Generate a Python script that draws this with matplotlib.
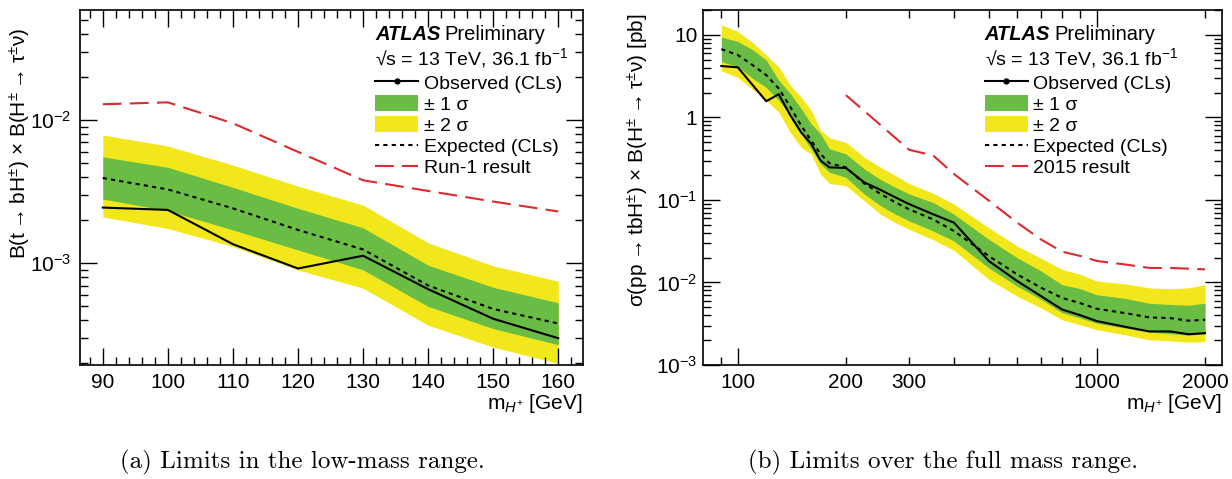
import math
import matplotlib
matplotlib.use("Agg")
import matplotlib.pyplot as plt
from matplotlib.lines import Line2D
from matplotlib.patches import Patch
from matplotlib.ticker import MultipleLocator, LogLocator, FixedLocator, FuncFormatter, NullFormatter

plt.rcParams["font.family"] = ["Liberation Sans", "DejaVu Sans"]
plt.rcParams["mathtext.fontset"] = "custom"
plt.rcParams["mathtext.rm"] = "Liberation Sans"
plt.rcParams["mathtext.it"] = "Liberation Sans:italic"
plt.rcParams["mathtext.bf"] = "Liberation Sans:bold"
plt.rcParams["mathtext.fallback"] = "stixsans"

# ---- (a) low-mass range: B(t->bH) x B(H->taunu)
mass_low = [90, 100, 110, 120, 130, 140, 150, 160]
obs_low = [0.00245, 0.00236, 0.00136, 0.00092, 0.00113, 0.00066, 0.00041, 0.00030]
exp_low = [0.00394, 0.00328, 0.00242, 0.00171, 0.00125, 0.00070, 0.00048, 0.00038]
p1s_low = [0.00554, 0.00468, 0.00339, 0.00242, 0.00177, 0.00097, 0.00068, 0.00053]
m1s_low = [0.00281, 0.00233, 0.00171, 0.00124, 0.00090, 0.00050, 0.00035, 0.00027]
p2s_low = [0.00786, 0.00659, 0.00485, 0.00346, 0.00255, 0.00139, 0.00096, 0.00075]
m2s_low = [0.00211, 0.00175, 0.00131, 0.00090, 0.00067, 0.00037, 0.00026, 0.00020]
run1 = [0.0129, 0.0133, 0.0095, 0.0060, 0.0038, 0.0032, 0.0027, 0.0023]

# ---- (b) full mass range: sigma x B [pb]
mass_full = [90, 100, 110, 120, 130, 140, 150, 160, 170, 180, 200, 225, 250, 275,
             300, 350, 400, 500, 600, 700, 800, 900, 1000, 1200, 1400, 1600, 1800, 2000]
obs_full = [4.19, 4.04, 2.46, 1.57, 1.91, 1.06, 0.66, 0.48, 0.30, 0.248, 0.244, 0.163,
            0.132, 0.107, 0.089, 0.067, 0.053, 0.0182, 0.0104, 0.0068, 0.0047, 0.0040,
            0.0034, 0.0029, 0.00255, 0.00255, 0.00236, 0.00243]
exp_full = [6.7, 5.7, 4.3, 3.25, 2.24, 1.34, 0.80, 0.525, 0.36, 0.278, 0.248, 0.158,
            0.118, 0.093, 0.077, 0.058, 0.042, 0.0209, 0.0125, 0.0086, 0.0065, 0.0056,
            0.0048, 0.00425, 0.00377, 0.0037, 0.00344, 0.00353]
p1s_full = [9.4, 8.3, 6.6, 4.95, 2.83, 1.95, 1.28, 0.84, 0.63, 0.416, 0.361, 0.238,
            0.176, 0.142, 0.118, 0.093, 0.067, 0.0333, 0.0199, 0.0137, 0.0094, 0.0084,
            0.0071, 0.0064, 0.0056, 0.0054, 0.0053, 0.0056]
m1s_full = [4.73, 4.11, 2.97, 2.31, 1.61, 1.06, 0.63, 0.416, 0.273, 0.216, 0.188, 0.118,
            0.085, 0.067, 0.0557, 0.042, 0.0318, 0.0150, 0.0090, 0.0062, 0.0043, 0.0037,
            0.0032, 0.0028, 0.0025, 0.0024, 0.0023, 0.0024]
p2s_full = [13.2, 11.0, 8.05, 5.7, 4.1, 2.46, 1.77, 1.22, 0.70, 0.566, 0.50, 0.329,
            0.248, 0.197, 0.158, 0.12, 0.089, 0.046, 0.0276, 0.0196, 0.0144, 0.0125,
            0.0104, 0.0096, 0.0086, 0.0084, 0.0086, 0.0094]
m2s_full = [3.67, 3.05, 2.18, 1.61, 1.16, 0.66, 0.435, 0.361, 0.206, 0.158, 0.149, 0.0977,
            0.067, 0.053, 0.044, 0.033, 0.0245, 0.0109, 0.0068, 0.0049, 0.00353, 0.00307,
            0.00267, 0.00232, 0.00202, 0.00196, 0.00189, 0.00192]
mass_2015 = [200, 300, 350, 400, 500, 600, 700, 800, 900, 1000, 1200, 1400, 1600, 2000]
res_2015 = [1.86, 0.405, 0.345, 0.206, 0.098, 0.053, 0.033, 0.0236, 0.0209, 0.0182,
            0.0165, 0.0150, 0.0150, 0.0144]

green = "#69bd45"
yellow = "#f2e71a"
red = "#dc2a2e"

fig = plt.figure(figsize=(12.32, 4.79), dpi=100)
axL = fig.add_axes([80 / 1232, 114 / 479, 503 / 1232, 355 / 479])
axR = fig.add_axes([703 / 1232, 114 / 479, 519 / 1232, 355 / 479])


def draw(ax, m, obs, exp, p1, m1, p2, m2, mref, ref):
    ax.fill_between(m, m2, p2, color=yellow, lw=0)
    ax.fill_between(m, m1, p1, color=green, lw=0)
    ax.plot(m, exp, color="k", lw=1.5, ls=(0, (2, 2)))
    ax.plot(m, obs, color="k", lw=1.5)
    ax.plot(mref, ref, color=red, lw=1.5, ls=(0, (9, 4)))
    ax.set_yscale("log")
    ax.tick_params(which="both", direction="in", top=True, right=True, labelsize=15, width=1)
    ax.tick_params(which="major", length=12, pad=6)
    ax.tick_params(which="minor", length=6, pad=6)
    for s in ax.spines.values():
        s.set_linewidth(1.2)


def decorate(ax, x0, reflabel):
    t = ax.text(x0, 0.915, "ATLAS", transform=ax.transAxes, fontsize=14.5,
                fontweight="bold", fontstyle="italic", va="baseline")
    ax.annotate("Preliminary", xy=(1, 0), xycoords=t, xytext=(3, 0),
                textcoords="offset points", fontsize=14.5, va="bottom")
    ax.text(x0, 0.845, "√s = 13 TeV, 36.1 fb$^{-1}$", transform=ax.transAxes,
            fontsize=14, va="baseline")
    handles = [
        Line2D([], [], color="k", lw=1.5, marker="o", markersize=3.5),
        Patch(facecolor=green, lw=0),
        Patch(facecolor=yellow, lw=0),
        Line2D([], [], color="k", lw=1.5, ls=(0, (2, 2))),
        Line2D([], [], color=red, lw=1.5, ls=(0, (9, 4))),
    ]
    labels = ["Observed (CLs)", "± 1 σ", "± 2 σ", "Expected (CLs)", reflabel]
    ax.legend(handles, labels, loc="upper left", bbox_to_anchor=(x0, 0.82),
              frameon=False, fontsize=14, borderpad=0, borderaxespad=0,
              handlelength=2.2, handleheight=0.9, handletextpad=0.3,
              labelspacing=0.12)


def ylog_label(v, p):
    if v >= 1:
        return "%g" % v
    return r"$10^{%d}$" % round(math.log10(v))


# left panel
draw(axL, mass_low, obs_low, exp_low, p1s_low, m1s_low, p2s_low, m2s_low, mass_low, run1)
axL.set_xlim(86.5, 163.8)
axL.set_ylim(1.95e-4, 0.0587)
axL.xaxis.set_major_locator(MultipleLocator(10))
axL.xaxis.set_minor_locator(MultipleLocator(2))
axL.yaxis.set_major_locator(LogLocator(base=10))
axL.yaxis.set_minor_locator(LogLocator(base=10, subs=range(2, 10)))
axL.yaxis.set_minor_formatter(NullFormatter())
axL.yaxis.set_major_formatter(FuncFormatter(ylog_label))
axL.set_ylabel("B(t\u2009→\u2009bH$^{\\pm}$) × B(H$^{\\pm}$\u2009→\u2009τ$^{\\pm}$ν)",
               fontsize=15, loc="top")
axL.yaxis.set_label_coords(-0.093, 0.95)
axL.set_xlabel(r"m$_{H^{+}}$ [GeV]", fontsize=15, loc="right")
axL.xaxis.set_label_coords(1.0, -0.075)
decorate(axL, 0.587, "Run-1 result")

# right panel
draw(axR, mass_full, obs_full, exp_full, p1s_full, m1s_full, p2s_full, m2s_full, mass_2015, res_2015)
axR.set_xscale("log")
axR.set_xlim(80, 2230)
axR.set_ylim(1e-3, 20)
axR.xaxis.set_major_locator(FixedLocator([100, 1000]))
axR.xaxis.set_minor_locator(FixedLocator([90, 200, 300, 400, 500, 600, 700, 800, 900, 2000]))
axR.xaxis.set_major_formatter(FuncFormatter(lambda v, p: "%d" % v))
axR.xaxis.set_minor_formatter(FuncFormatter(lambda v, p: "%d" % v if round(v) in (200, 300, 2000) else ""))
axR.tick_params(axis="x", which="minor", labelsize=15)
axR.tick_params(axis="y", which="both", pad=4)
axR.yaxis.set_major_locator(LogLocator(base=10))
axR.yaxis.set_minor_locator(LogLocator(base=10, subs=range(2, 10)))
axR.yaxis.set_minor_formatter(NullFormatter())
axR.yaxis.set_major_formatter(FuncFormatter(ylog_label))
axR.set_ylabel("σ(pp\u2009→\u2009tbH$^{\\pm}$) × B(H$^{\\pm}$\u2009→\u2009τ$^{\\pm}$ν) [pb]",
               fontsize=15, loc="top")
axR.yaxis.set_label_coords(-0.1, 0.99)
axR.set_xlabel(r"m$_{H^{+}}$ [GeV]", fontsize=15, loc="right")
axR.xaxis.set_label_coords(1.0, -0.075)
decorate(axR, 0.543, "2015 result")

fig.text(302 / 1232, 0.035, "(a) Limits in the low-mass range.", family="cmr10",
         fontsize=18, ha="center", va="center")
fig.text(943 / 1232, 0.035, "(b) Limits over the full mass range.", family="cmr10",
         fontsize=18, ha="center", va="center")

fig.savefig("out.png", dpi=100)
